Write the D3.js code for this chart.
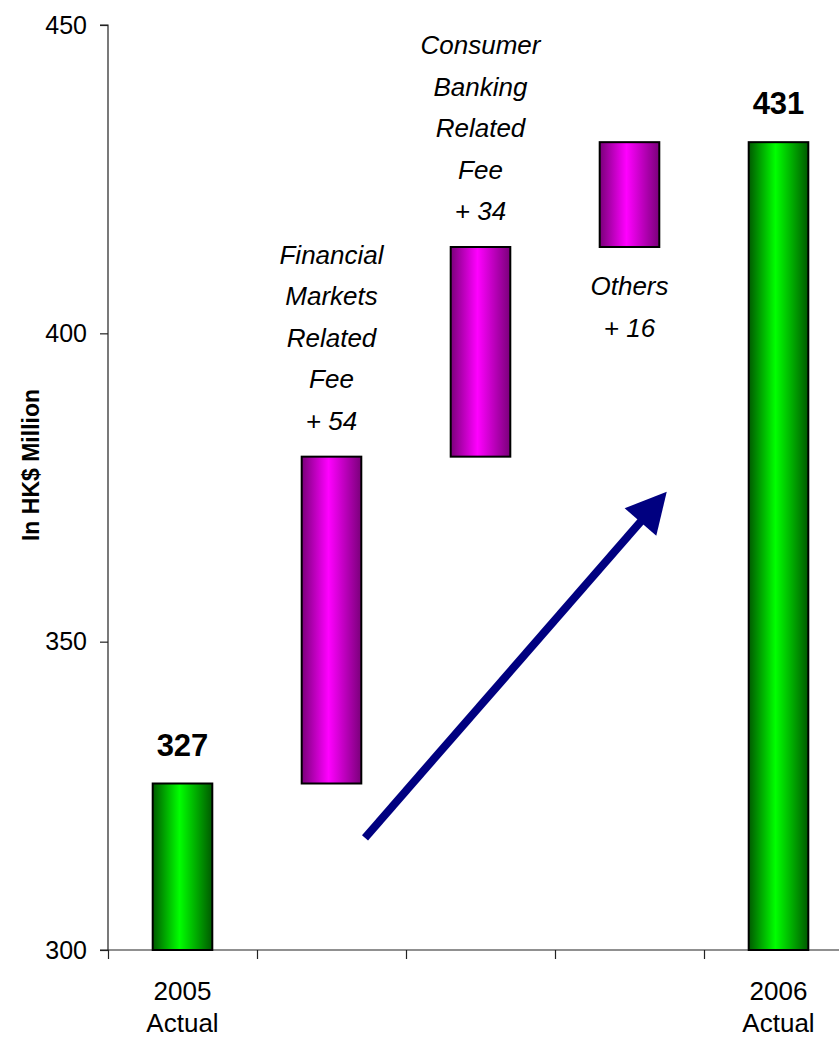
<!DOCTYPE html>
<html><head><meta charset="utf-8">
<script src="https://cdn.jsdelivr.net/npm/d3@7/dist/d3.min.js"></script>
<style>html,body{margin:0;padding:0;background:#fff;}svg{display:block;font-family:"Liberation Sans",Arial,sans-serif;}</style>
</head><body>
<script>
const categories = ["2005 Actual","Financial Markets Related Fee","Consumer Banking Related Fee","Others","2006 Actual"];
const xTickLabels = [["2005","Actual"],[],[],[],["2006","Actual"]];
const barStart = [300, 327, 380, 414, 300];
const barEnd   = [327, 380, 414, 431, 431];
const barType  = ["total","delta","delta","delta","total"];
const valueLabels = ["327", null, null, null, "431"];
const annotations = [null, ["Financial","Markets","Related","Fee","+ 54"], ["Consumer","Banking","Related","Fee","+ 34"], ["Others","+ 16"], null];
const annotationSide = [null, "above", "above", "below", null];
const yTicks = [300, 350, 400, 450];
const arrowFrom = [1.725, 318.2];   // [category units, HK$ million]
const arrowTo   = [3.75, 374.3];

const W = 839, H = 1040;
const svg = d3.select("body").append("svg").attr("width", W).attr("height", H);

const x = d3.scaleBand().domain(categories).range([108, 853]).padding(0);
const xu = d3.scaleLinear().domain([0, categories.length]).range([108, 853]);
const y = d3.scaleLinear().domain([300, 450]).range([950, 25]);

const defs = svg.append("defs");
function grad(id, dark, bright){
  const g = defs.append("linearGradient").attr("id", id).attr("x1","0").attr("x2","1").attr("y1","0").attr("y2","0");
  g.append("stop").attr("offset","0").attr("stop-color",dark);
  g.append("stop").attr("offset","0.45").attr("stop-color",bright);
  g.append("stop").attr("offset","1").attr("stop-color",dark);
}
grad("gGreen", "#005a00", "#00ff00");
grad("gMag", "#7a007a", "#ff00ff");

// axes
const yAxis = d3.axisLeft(y).tickValues(yTicks).tickSize(8).tickPadding(13);
const ga = svg.append("g").attr("transform","translate(108,0)").call(yAxis);
ga.select(".domain").attr("stroke","#222").attr("stroke-width",1.2).attr("d","M-8,25H0V950H-8");
ga.selectAll(".tick line").attr("stroke","#222").attr("stroke-width",1.2);
ga.selectAll(".tick text").attr("font-size",25).attr("fill","#000").attr("font-family","Liberation Sans, Arial, sans-serif");

const xAxis = d3.axisBottom(xu).tickValues(d3.range(0, categories.length)).tickSize(9).tickFormat("");
const gx = svg.append("g").attr("transform","translate(0,950)").call(xAxis);
gx.select(".domain").attr("stroke","#222").attr("stroke-width",1.2).attr("d","M108,0H853");
gx.selectAll(".tick line").attr("stroke","#222").attr("stroke-width",1.2);

// x labels
categories.forEach((c,i)=>{
  xTickLabels[i].forEach((t,j)=>{
    svg.append("text").attr("x", x(c)+x.bandwidth()/2).attr("y", 1000 + j*32)
      .attr("text-anchor","middle").attr("font-size",26).text(t);
  });
});

// bars
const bw = x.bandwidth()*0.4;
categories.forEach((c,i)=>{
  const cx = x(c)+x.bandwidth()/2;
  svg.append("rect").attr("x", cx-bw/2).attr("y", y(barEnd[i]))
    .attr("width", bw).attr("height", y(barStart[i]) - y(barEnd[i]))
    .attr("fill", barType[i]==="total" ? "url(#gGreen)" : "url(#gMag)")
    .attr("stroke","#000").attr("stroke-width",2);
  if (valueLabels[i]) {
    svg.append("text").attr("x", cx).attr("y", y(barEnd[i]) - 28)
      .attr("text-anchor","middle").attr("font-size",31).attr("font-weight","bold").text(valueLabels[i]);
  }
  if (annotations[i]) {
    const lines = annotations[i], lh = 41.5;
    let y0;
    if (annotationSide[i]==="above") y0 = y(barEnd[i]) - 27 - (lines.length-1)*lh;
    else y0 = y(barStart[i]) + 48;
    lines.forEach((t,j)=>{
      svg.append("text").attr("x", cx).attr("y", y0 + j*lh).attr("text-anchor","middle")
        .attr("font-size",26).attr("font-style","italic").text(t);
    });
  }
});

// y axis title
svg.append("text").attr("transform","translate(39,465) rotate(-90)").attr("text-anchor","middle")
  .attr("font-size",23).attr("font-weight","bold").text("In HK$ Million");

// arrow
const x1 = xu(arrowFrom[0]), y1 = y(arrowFrom[1]), x2 = xu(arrowTo[0]), y2 = y(arrowTo[1]);
const ang = Math.atan2(y2-y1, x2-x1);
const headLen = 40, headW = 21;
const bx = x2 - headLen*Math.cos(ang), by = y2 - headLen*Math.sin(ang);
svg.append("line").attr("x1",x1).attr("y1",y1).attr("x2",bx+2*Math.cos(ang)).attr("y2",by+2*Math.sin(ang))
  .attr("stroke","#000080").attr("stroke-width",8);
const px = -Math.sin(ang), py = Math.cos(ang);
svg.append("path").attr("d", `M${x2},${y2}L${bx+px*headW},${by+py*headW}L${bx-px*headW},${by-py*headW}Z`).attr("fill","#000080");
</script>
</body></html>
